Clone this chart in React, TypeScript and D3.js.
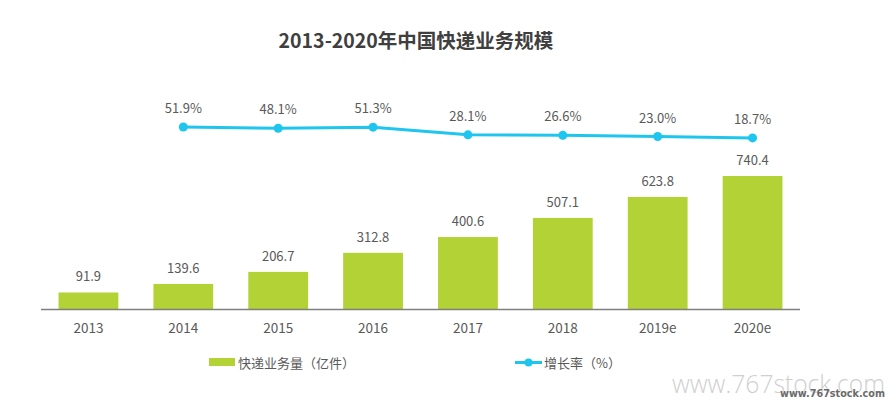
import React, { useEffect, useRef } from "react";
import * as d3 from "d3";

const years = ["2013", "2014", "2015", "2016", "2017", "2018", "2019e", "2020e"];
const volume = [91.9, 139.6, 206.7, 312.8, 400.6, 507.1, 623.8, 740.4];
const growthYears = ["2014", "2015", "2016", "2017", "2018", "2019e", "2020e"];
const growth = [51.9, 48.1, 51.3, 28.1, 26.6, 23.0, 18.7];

const title = "2013-2020年中国快递业务规模";
const barLegend = "快递业务量（亿件）";
const lineLegend = "增长率（%）";

const GREEN = "#b2d235";
const BLUE = "#1ec6ef";
const TEXT = "#595959";
const FONT = "'Noto Sans CJK SC', 'Noto Sans', sans-serif";

const App: React.FC = () => {
  const svgRef = useRef<SVGSVGElement>(null);
  const width = 896;
  const height = 405;

  useEffect(() => {
    document.body.style.margin = "0";
    if (!svgRef.current) return;
    const svg = d3.select(svgRef.current);
    svg.selectAll("*").remove();

    const x = d3
      .scaleBand<string>()
      .domain(years)
      .range([41, 800])
      .paddingInner(0.37)
      .paddingOuter(0.185);

    // bar scale: 0 sits on the axis line
    const y = d3.scaleLinear().domain([0, 800]).range([309, 165.3]);
    // growth rate scale, squeezed into a thin band above the bars
    const y2 = d3.scaleLinear().domain([0, 60]).range([144.1, 124.3]);

    // title
    svg
      .append("text")
      .attr("x", 416)
      .attr("y", 48)
      .attr("text-anchor", "middle")
      .style("font-family", FONT)
      .style("font-size", "19.5px")
      .style("font-weight", "bold")
      .style("fill", "#3f3f3f")
      .text(title);

    // bars
    svg
      .append("g")
      .selectAll("rect")
      .data(volume)
      .enter()
      .append("rect")
      .attr("x", (d, i) => x(years[i])!)
      .attr("y", (d) => y(d))
      .attr("width", x.bandwidth())
      .attr("height", (d) => y(0) - y(d))
      .style("fill", GREEN);

    // bar value labels
    svg
      .append("g")
      .selectAll("text")
      .data(volume)
      .enter()
      .append("text")
      .attr("x", (d, i) => x(years[i])! + x.bandwidth() / 2)
      .attr("y", (d) => y(d) - 11)
      .attr("text-anchor", "middle")
      .style("font-family", FONT)
      .style("font-size", "13px")
      .style("fill", TEXT)
      .text((d) => d.toFixed(1));

    // axis line
    svg
      .append("line")
      .attr("x1", 41)
      .attr("x2", 800)
      .attr("y1", y(0) + 0.5)
      .attr("y2", y(0) + 0.5)
      .style("stroke", "#7f7f7f")
      .style("stroke-width", 1.3);

    // category labels
    svg
      .append("g")
      .selectAll("text")
      .data(years)
      .enter()
      .append("text")
      .attr("x", (d) => x(d)! + x.bandwidth() / 2)
      .attr("y", 333)
      .attr("text-anchor", "middle")
      .style("font-family", FONT)
      .style("font-size", "13.5px")
      .style("fill", TEXT)
      .text((d) => d);

    // growth line
    const line = d3
      .line<number>()
      .x((d, i) => x(growthYears[i])! + x.bandwidth() / 2)
      .y((d) => y2(d));

    svg
      .append("path")
      .datum(growth)
      .attr("d", line)
      .style("fill", "none")
      .style("stroke", BLUE)
      .style("stroke-width", 3);

    svg
      .append("g")
      .selectAll("circle")
      .data(growth)
      .enter()
      .append("circle")
      .attr("cx", (d, i) => x(growthYears[i])! + x.bandwidth() / 2)
      .attr("cy", (d) => y2(d))
      .attr("r", 4.5)
      .style("fill", BLUE);

    svg
      .append("g")
      .selectAll("text")
      .data(growth)
      .enter()
      .append("text")
      .attr("x", (d, i) => x(growthYears[i])! + x.bandwidth() / 2)
      .attr("y", (d) => y2(d) - 14)
      .attr("text-anchor", "middle")
      .style("font-family", FONT)
      .style("font-size", "13px")
      .style("fill", TEXT)
      .text((d) => d.toFixed(1) + "%");

    // legend
    const legend = svg.append("g");
    legend
      .append("rect")
      .attr("x", 209)
      .attr("y", 358)
      .attr("width", 26)
      .attr("height", 8)
      .style("fill", GREEN);
    legend
      .append("text")
      .attr("x", 238)
      .attr("y", 367.5)
      .style("font-family", FONT)
      .style("font-size", "13px")
      .style("fill", TEXT)
      .text(barLegend);

    legend
      .append("line")
      .attr("x1", 515)
      .attr("x2", 542)
      .attr("y1", 362.5)
      .attr("y2", 362.5)
      .style("stroke", BLUE)
      .style("stroke-width", 3);
    legend
      .append("circle")
      .attr("cx", 528.5)
      .attr("cy", 362.5)
      .attr("r", 4)
      .style("fill", BLUE);
    legend
      .append("text")
      .attr("x", 544)
      .attr("y", 367.5)
      .style("font-family", FONT)
      .style("font-size", "13px")
      .style("fill", TEXT)
      .text(lineLegend);

    // watermark
    svg
      .append("text")
      .attr("x", 672)
      .attr("y", 393)
      .attr("textLength", 213)
      .attr("lengthAdjust", "spacingAndGlyphs")
      .style("font-family", "'Open Sans', sans-serif")
      .style("font-size", "25px")
      .style("font-weight", 300)
      .style("fill", "#cfcfcf")
      .text("www.767stock.com");
    svg
      .append("text")
      .attr("x", 780)
      .attr("y", 397)
      .attr("textLength", 105)
      .attr("lengthAdjust", "spacingAndGlyphs")
      .style("font-family", "'DejaVu Sans', sans-serif")
      .style("font-size", "10.5px")
      .style("font-weight", "bold")
      .style("fill", "#6a6a6a")
      .style("stroke", "#ffffff")
      .style("stroke-width", 0.6)
      .style("paint-order", "stroke")
      .text("www.767stock.com");
  }, []);

  return (
    <svg
      ref={svgRef}
      width={width}
      height={height}
      viewBox={`0 0 ${width} ${height}`}
      style={{ display: "block", background: "#ffffff" }}
    />
  );
};

export default App;
